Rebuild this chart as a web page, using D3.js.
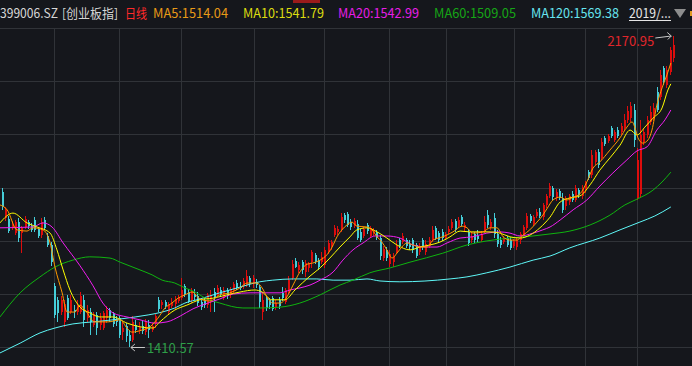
<!DOCTYPE html>
<html>
<head>
  <meta charset="utf-8">
  <script src="https://d3js.org/d3.v7.min.js"></script>
  <style>
    html, body { margin: 0; padding: 0; background: #15171c; overflow: hidden; }
    svg { display: block; }
  </style>
</head>
<body>
<script>
// 399006.SZ daily candles (about Apr 2019 - Feb 2020)
var opens = [1790,1726,1724,1702,1689,1716,1689,1704,1716,1706,
  1721,1699,1684,1721,1682,1660,1560,1526,1496,1472,
  1530,1496,1501,1496,1496,1526,1481,1496,1464,1489,
  1464,1457,1481,1501,1491,1477,1481,1447,1462,1440,
  1428,1464,1452,1462,1447,1464,1452,1467,1526,1513,
  1521,1496,1511,1516,1523,1530,1560,1545,1526,1540,
  1535,1521,1526,1513,1521,1545,1538,1550,1530,1550,
  1538,1548,1567,1560,1560,1562,1579,1565,1570,1557,
  1496,1530,1526,1530,1508,1526,1543,1521,1545,1579,
  1621,1599,1618,1594,1604,1618,1636,1623,1618,1611,
  1643,1658,1684,1692,1697,1733,1736,1716,1706,1711,
  1692,1682,1709,1682,1689,1692,1677,1628,1648,1613,
  1618,1643,1672,1667,1672,1662,1672,1660,1643,1672,
  1643,1658,1672,1702,1689,1692,1677,1692,1702,1719,
  1706,1728,1702,1692,1672,1687,1682,1672,1692,1733,
  1704,1726,1687,1672,1667,1677,1672,1658,1655,1672,
  1684,1702,1731,1711,1731,1741,1728,1758,1780,1799,
  1775,1792,1775,1755,1765,1785,1770,1794,1780,1794,
  1838,1831,1863,1887,1873,1922,1914,1946,1917,1941,
  1936,1946,1966,1970,1990,1775,1785,1912,1929,1961,
  1970,2034,2022,2093,2051,2083,2117];
var closes = [1753,1748,1694,1711,1716,1677,1702,1724,1706,1697,
  1697,1682,1716,1702,1660,1618,1489,1494,1526,1516,
  1481,1526,1496,1513,1535,1477,1501,1472,1491,1457,
  1481,1494,1501,1481,1467,1472,1440,1457,1437,1425,
  1472,1452,1460,1450,1472,1452,1462,1486,1504,1521,
  1511,1516,1521,1528,1533,1550,1540,1523,1548,1533,
  1518,1508,1513,1538,1535,1530,1555,1540,1550,1535,
  1552,1565,1555,1555,1572,1584,1565,1579,1562,1521,
  1526,1506,1513,1504,1518,1511,1530,1550,1574,1613,
  1606,1611,1599,1616,1613,1643,1618,1606,1631,1648,
  1665,1667,1702,1699,1728,1721,1709,1704,1719,1677,
  1672,1699,1694,1702,1697,1677,1633,1650,1628,1638,
  1633,1658,1658,1682,1658,1655,1648,1633,1658,1655,
  1662,1672,1697,1677,1672,1677,1687,1699,1716,1697,
  1721,1711,1709,1665,1682,1672,1675,1687,1716,1709,
  1716,1687,1662,1660,1677,1660,1653,1670,1672,1687,
  1704,1731,1719,1728,1741,1731,1758,1780,1804,1777,
  1790,1775,1746,1775,1780,1770,1799,1782,1799,1812,
  1824,1880,1887,1856,1912,1907,1926,1926,1936,1926,
  1951,1966,1988,2000,1917,1868,1929,1936,1966,1985,
  1995,1990,2076,2058,2088,2137,2149];
var highs = [1799,1753,1731,1719,1721,1726,1706,1731,1721,1714,
  1728,1704,1726,1728,1689,1667,1567,1533,1535,1526,
  1538,1538,1513,1526,1545,1538,1513,1506,1496,1496,
  1494,1499,1511,1506,1496,1486,1486,1472,1469,1452,
  1486,1477,1472,1477,1479,1477,1469,1491,1533,1526,
  1526,1521,1530,1535,1538,1579,1565,1552,1555,1552,
  1545,1530,1533,1543,1550,1555,1562,1557,1557,1555,
  1557,1570,1574,1570,1579,1599,1584,1587,1577,1562,
  1543,1535,1530,1535,1526,1533,1557,1555,1584,1623,
  1628,1618,1623,1623,1618,1648,1640,1628,1643,1655,
  1672,1672,1709,1706,1738,1738,1741,1724,1726,1721,
  1699,1704,1714,1706,1702,1697,1684,1658,1655,1648,
  1640,1672,1677,1689,1677,1672,1677,1665,1665,1677,
  1672,1680,1706,1706,1694,1699,1692,1706,1724,1724,
  1728,1733,1716,1699,1692,1692,1697,1694,1731,1746,
  1724,1738,1697,1680,1682,1682,1680,1675,1677,1692,
  1709,1738,1736,1733,1748,1750,1763,1785,1812,1804,
  1797,1797,1787,1780,1785,1792,1807,1799,1807,1816,
  1843,1892,1892,1895,1922,1926,1931,1951,1941,1948,
  1958,1980,2000,2010,2005,1897,1966,1946,1975,2000,
  2007,2046,2088,2098,2098,2144,2170.95];
var lows = [1746,1719,1689,1697,1684,1667,1640,1699,1699,1692,
  1692,1677,1677,1697,1655,1609,1481,1472,1489,1460,
  1477,1491,1481,1489,1491,1460,1472,1440,1460,1440,
  1452,1452,1469,1472,1460,1462,1433,1428,1423,1410.57,
  1423,1445,1442,1442,1440,1433,1447,1457,1496,1504,
  1504,1491,1506,1504,1518,1526,1533,1518,1518,1526,
  1511,1501,1506,1506,1496,1496,1533,1533,1526,1528,
  1530,1540,1550,1550,1552,1557,1557,1555,1555,1506,
  1477,1499,1504,1499,1501,1504,1523,1516,1540,1574,
  1604,1591,1589,1582,1594,1604,1613,1599,1613,1604,
  1638,1648,1680,1684,1692,1714,1704,1697,1702,1672,
  1667,1677,1687,1677,1682,1672,1623,1621,1621,1606,
  1606,1638,1653,1662,1653,1648,1640,1628,1636,1648,
  1636,1653,1667,1672,1665,1670,1672,1687,1697,1692,
  1702,1706,1692,1658,1665,1665,1667,1667,1689,1702,
  1697,1677,1655,1653,1662,1655,1648,1653,1648,1662,
  1680,1697,1714,1706,1726,1726,1721,1750,1775,1770,
  1768,1770,1738,1746,1758,1765,1765,1775,1772,1787,
  1819,1824,1856,1848,1868,1902,1909,1922,1912,1922,
  1929,1941,1958,1961,1900,1770,1775,1904,1922,1953,
  1963,1985,2014,2051,2044,2076,2107];

// moving averages, [candle index, value]
var ma5 = [[-0.6,1758],[1.6,1746],[4.6,1697],[7.7,1694],[9.5,1702],[12.6,1697],[14.8,1665],
  [16.3,1606],[18.5,1543],[20,1496],[22.4,1496],[24,1513],[25.5,1501],[28.6,1472],[32.6,1472],
  [36.3,1477],[38.4,1457],[39.9,1447],[43,1452],[45.5,1460],[47.9,1481],[50.1,1506],[52.2,1518],
  [54.1,1530],[56.2,1538],[58.4,1545],[60.8,1528],[63.9,1523],[66.9,1538],[70,1543],[73.1,1555],
  [75.3,1567],[78.3,1567],[79.9,1555],[81.4,1533],[83.2,1518],[85.4,1518],[87.5,1533],[89.4,1562],
  [91.5,1594],[93.7,1613],[95.5,1616],[97.7,1623],[99.8,1636],[101.4,1655],[102.9,1680],[104.4,1697],
  [105.95,1709],[107.5,1716],[109,1706],[112.1,1704],[113.6,1697],[115.2,1680],[116.7,1667],
  [118.2,1648],[119.8,1628],[121.3,1640],[122.8,1655],[124.4,1665],[126.2,1660],[128.4,1655],
  [130.5,1655],[132.4,1672],[135.4,1680],[138.5,1692],[141.3,1706],[142.8,1702],[144.6,1689],
  [147.7,1692],[149.9,1702],[152,1702],[153.9,1680],[156,1672],[158.2,1672],[160,1684],[162.1,1697],
  [164.3,1716],[166.1,1733],[167.7,1753],[169.2,1770],[171.4,1777],[173.5,1770],[175.4,1777],
  [177.5,1785],[179.6,1814],[181.5,1848],[183.6,1863],[186.7,1892],[189.8,1922],[191.9,1948],
  [193.5,1961],[194.4,1946],[195.3,1922],[196.8,1909],[198.4,1917],[199.6,1941],[201.1,2002],
  [202.7,2044],[204.2,2076],[205.4,2105]];
var ma10 = [[-0.6,1714],[3.4,1738],[7.7,1714],[10.8,1704],[14.8,1689],[16.9,1648],[18.8,1599],
  [20.9,1550],[24,1508],[27,1494],[30.1,1484],[34.1,1484],[38.4,1469],[42.4,1460],[46.4,1457],
  [48.5,1472],[53.1,1501],[56.8,1513],[60.8,1526],[64.8,1530],[69.1,1538],[73.1,1545],[77.7,1550],
  [79.9,1545],[82.9,1526],[86.9,1526],[90,1550],[94.6,1584],[97.7,1604],[100.7,1628],[103.8,1655],
  [106.9,1680],[109,1697],[112.1,1702],[115.2,1692],[118.2,1677],[121.3,1660],[125.3,1648],
  [128.4,1655],[131.4,1660],[134.5,1667],[137.6,1680],[140.7,1694],[143.7,1692],[146.8,1692],
  [149.9,1692],[152.9,1689],[156,1680],[159.1,1677],[162.1,1684],[165.2,1702],[168.3,1728],
  [171.4,1765],[174.4,1775],[177.5,1780],[180.6,1807],[183.6,1843],[186.7,1873],[189.8,1904],
  [192.9,1941],[195,1929],[197.4,1948],[199.9,1970],[202.7,1995],[204.5,2039],[205.4,2054]];
var ma20 = [[-0.6,1702],[9.5,1704],[12.6,1714],[15.4,1704],[18.8,1665],[24,1609],[28,1560],
  [31,1518],[34.1,1494],[38.4,1484],[42.4,1477],[47,1469],[50.7,1472],[54.7,1486],[58.7,1504],
  [60.8,1511],[66.9,1528],[71,1540],[76.2,1543],[81.4,1543],[85.4,1543],[88.5,1550],[91.5,1555],
  [94.6,1562],[97.7,1574],[101.7,1594],[104.7,1623],[107.8,1648],[110.9,1665],[114.6,1682],
  [118.2,1682],[122.2,1677],[126.2,1660],[130.5,1655],[133.6,1655],[136.7,1665],[140.7,1677],
  [144.6,1680],[148.9,1689],[152.9,1692],[156,1689],[159.1,1682],[163.1,1689],[166.1,1697],
  [168.3,1704],[171.4,1721],[175.4,1746],[179.6,1770],[183.6,1804],[187.6,1836],[191.9,1868],
  [195,1890],[198.1,1900],[201.1,1941],[203.6,1966],[205.4,1990]];
var ma60 = [[-0.6,1484],[5.6,1543],[11.7,1582],[16.3,1606],[21.8,1623],[27,1631],[33.2,1628],
  [36.3,1618],[42.4,1599],[46.1,1587],[49.2,1574],[53.1,1567],[56.2,1555],[59.3,1545],[62.4,1530],
  [66.9,1518],[74,1506],[79.2,1506],[85.4,1508],[91.5,1518],[97.7,1538],[103.8,1562],[107.8,1574],
  [113,1592],[119.2,1604],[125.3,1618],[135.4,1640],[142.8,1660],[148.9,1670],[156,1677],
  [163.1,1682],[168.3,1687],[174.4,1694],[180.6,1709],[186.7,1733],[191.3,1758],[195,1772],
  [199.9,1794],[202.7,1814],[205.4,1838]];
var ma120 = [[-0.6,1396],[5.6,1420],[11.7,1445],[16.3,1457],[21.8,1467],[28,1472],[34.1,1477],
  [40.9,1484],[44.9,1489],[49.2,1496],[53.1,1506],[56.2,1518],[60.8,1528],[66.9,1543],[73.1,1557],
  [79.2,1570],[83.2,1574],[89.4,1577],[96.7,1577],[101.7,1574],[106.9,1574],[112.1,1577],
  [116.1,1572],[122.2,1570],[137.6,1577],[142.8,1582],[148.9,1592],[156,1606],[163.1,1623],
  [168.3,1633],[174.4,1653],[183.6,1677],[189.8,1697],[195.9,1716],[200.5,1731],[205.4,1753]];

// first candle of each month (vertical grid) and horizontal grid prices
var monthStarts = [16, 36, 55, 77.4, 98.9, 119, 136.4, 157.2, 179, 195];
var priceGrid = [1410.6, 1540.2, 1669.8, 1799.3, 1931.4, 2061.0, 2190.5];

var headItems = [
  {text: "399006.SZ", x: 0, w: 58, color: "#d6d6d6"},
  {text: "[创业板指]", x: 62, w: 56, color: "#d6d6d6"},
  {text: "日线", x: 125, w: 22, color: "#ff2a2a"},
  {text: "MA5:1514.04", x: 153, w: 75, color: "#e89a17"},
  {text: "MA10:1541.79", x: 243, w: 81, color: "#dcdc10"},
  {text: "MA20:1542.99", x: 338, w: 81, color: "#e61ee6"},
  {text: "MA60:1509.05", x: 434, w: 82, color: "#16a516"},
  {text: "MA120:1569.38", x: 531, w: 88, color: "#66e4ef"},
  {text: "2019/...", x: 629, w: 42, color: "#e6e6e6"}
];

var width = 692, height = 366;
var font = "'Microsoft YaHei','Noto Sans CJK SC',sans-serif";

var svg = d3.select("body").append("svg")
    .attr("width", width)
    .attr("height", height);

svg.append("rect")
    .attr("width", width)
    .attr("height", height)
    .attr("fill", "#15171c");

var x = d3.scaleLinear().domain([0, 206]).range([1.9, 672.8]);
var y = d3.scaleLinear().domain([1410.57, 2170.95]).range([347, 36]);

// grid
var grid = svg.append("g").attr("shape-rendering", "crispEdges");
grid.selectAll("line.h")
  .data(priceGrid)
  .enter().append("line")
    .attr("x1", 0).attr("x2", width)
    .attr("y1", function (d) { return Math.round(y(d)) + 0.5; })
    .attr("y2", function (d) { return Math.round(y(d)) + 0.5; })
    .attr("stroke", "#303338");
grid.selectAll("line.v")
  .data(monthStarts)
  .enter().append("line")
    .attr("x1", function (d) { return Math.round(x(d)) + 0.5; })
    .attr("x2", function (d) { return Math.round(x(d)) + 0.5; })
    .attr("y1", 28).attr("y2", height)
    .attr("stroke", "#303338");

// candles
var up = "#dd0d0d", down = "#45cdd8";
var idx = d3.range(opens.length);
var candles = svg.append("g").attr("shape-rendering", "crispEdges");
candles.selectAll("line")
  .data(idx)
  .enter().append("line")
    .attr("x1", function (i) { return Math.round(x(i)) + 0.5; })
    .attr("x2", function (i) { return Math.round(x(i)) + 0.5; })
    .attr("y1", function (i) { return y(highs[i]); })
    .attr("y2", function (i) { return y(lows[i]); })
    .attr("stroke", function (i) { return closes[i] >= opens[i] ? up : down; });
candles.selectAll("rect")
  .data(idx)
  .enter().append("rect")
    .attr("x", function (i) { return Math.round(x(i)); })
    .attr("width", 2)
    .attr("y", function (i) { return y(Math.max(opens[i], closes[i])); })
    .attr("height", function (i) { return Math.max(1, Math.abs(y(opens[i]) - y(closes[i]))); })
    .attr("fill", function (i) { return closes[i] >= opens[i] ? up : down; });

// moving average lines
var line = d3.line()
    .x(function (d) { return x(d[0]); })
    .y(function (d) { return y(d[1]); })
    .curve(d3.curveMonotoneX);
[[ma120, "#5ef7f7"], [ma60, "#0fb40f"], [ma20, "#f21ef2"], [ma10, "#ffff00"], [ma5, "#ff9a00"]]
  .forEach(function (m) {
    svg.append("path")
      .datum(m[0])
      .attr("d", line)
      .attr("fill", "none")
      .attr("stroke", m[1])
      .attr("stroke-width", 1);
  });

// max / min markers
var hi = d3.maxIndex(highs), lo = d3.minIndex(lows);
var hx = x(hi) - 1.5, hy = y(highs[hi]);
svg.append("path")
    .attr("d", "M" + (hx - 16) + "," + (hy + 2) + "L" + hx + "," + hy +
               "M" + (hx - 4) + "," + (hy - 3.5) + "L" + hx + "," + hy + "L" + (hx - 3.5) + "," + (hy + 3.5))
    .attr("fill", "none").attr("stroke", "#c8c8c8");
svg.append("text")
    .attr("x", hx - 17).attr("y", hy + 9.5)
    .attr("text-anchor", "end")
    .style("font-family", font).style("font-size", "13px")
    .attr("fill", "#e0262b")
    .text(d3.format(".2f")(highs[hi]));

var lx = x(lo) + 2, ly = y(lows[lo]) + 0.5;
svg.append("path")
    .attr("d", "M" + (lx + 14) + "," + ly + "L" + lx + "," + ly +
               "M" + (lx + 4) + "," + (ly - 3.5) + "L" + lx + "," + ly + "L" + (lx + 4) + "," + (ly + 3.5))
    .attr("fill", "none").attr("stroke", "#c8c8c8");
svg.append("text")
    .attr("x", lx + 16).attr("y", ly + 5)
    .style("font-family", font).style("font-size", "13px")
    .attr("fill", "#2e9e48")
    .text(d3.format(".2f")(lows[lo]));

// header
svg.append("rect").attr("x", 293).attr("y", 0).attr("width", 27).attr("height", 3).attr("fill", "#9b1b1b");
svg.selectAll("text.head")
  .data(headItems)
  .enter().append("text")
    .attr("class", "head")
    .attr("x", function (d) { return d.x; })
    .attr("y", 18)
    .attr("textLength", function (d) { return d.w; })
    .attr("lengthAdjust", "spacingAndGlyphs")
    .style("font-family", font).style("font-size", "13px")
    .attr("fill", function (d) { return d.color; })
    .text(function (d) { return d.text; });
svg.append("line")
    .attr("x1", 629).attr("x2", 671).attr("y1", 20.5).attr("y2", 20.5)
    .attr("stroke", "#e6e6e6");
svg.append("path")
    .attr("d", "M674,9L686,9L680,18Z")
    .attr("fill", "#8d8d8d");
svg.append("rect").attr("x", 690).attr("y", 11).attr("width", 2).attr("height", 5).attr("fill", "#e09a20");
</script>
</body>
</html>
